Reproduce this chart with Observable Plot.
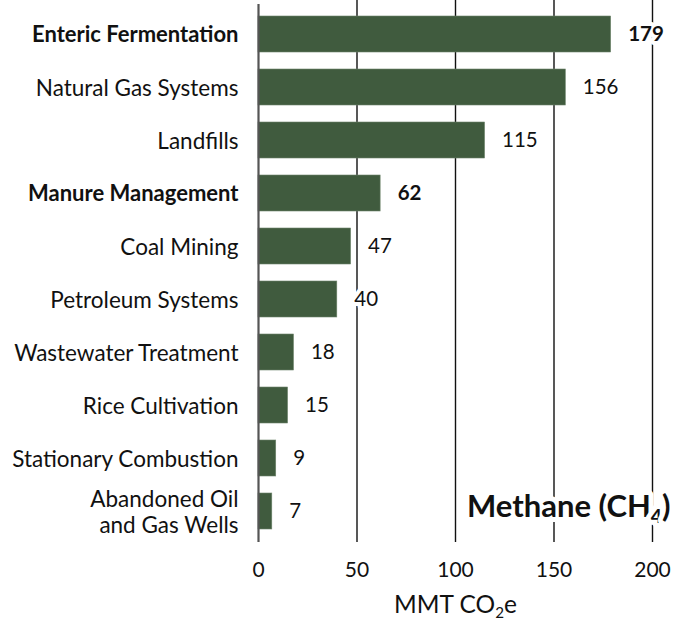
<!DOCTYPE html>
<html>
<head>
<meta charset="utf-8">
<script src="https://cdn.jsdelivr.net/npm/d3@7"></script>
<script src="https://cdn.jsdelivr.net/npm/@observablehq/plot@0.6"></script>
<style>
  html, body { margin: 0; padding: 0; background: #fff; }
  #chart svg { display: block; }
</style>
</head>
<body>
<div id="chart"></div>
<script>
const categories = [
  "Enteric Fermentation",
  "Natural Gas Systems",
  "Landfills",
  "Manure Management",
  "Coal Mining",
  "Petroleum Systems",
  "Wastewater Treatment",
  "Rice Cultivation",
  "Stationary Combustion",
  "Abandoned Oil\nand Gas Wells"
];
const values = [179, 156, 115, 62, 47, 40, 18, 15, 9, 7];
const highlighted = ["Enteric Fermentation", "Manure Management"];
const xTicks = [0, 50, 100, 150, 200];
const gridTicks = [50, 100, 150, 200];
const chartTitle = "Methane (CH4)";
const xLabel = "MMT CO2e";

const data = categories.map((c, i) => ({category: c, value: values[i], bold: highlighted.includes(c)}));
const FONT = "Lato, 'Open Sans', sans-serif";
const GREEN = "#405b3e";

const plot = Plot.plot({
  width: 680,
  height: 630,
  marginLeft: 258,
  marginRight: 28,
  marginTop: 0,
  marginBottom: 85,
  style: {fontFamily: FONT, background: "#fff", color: "#111"},
  x: {domain: [0, 200], ticks: xTicks, label: null},
  y: {domain: categories, paddingInner: 0.33, paddingOuter: 0.22, axis: null},
  marks: [
    Plot.ruleX(gridTicks, {stroke: "#111", strokeWidth: 1.4, insetBottom: 3}),
    Plot.barX(data, {x: "value", y: "category", fill: GREEN, stroke: "#6d846b", strokeWidth: 0.6}),
    Plot.ruleX([0], {stroke: "#555", strokeWidth: 2.2, insetTop: 4, insetBottom: 3}),
    Plot.axisX({ticks: xTicks, tickSize: 0, tickPadding: 17, fontSize: 21, fill: "#111", label: null}),
    // category labels
    Plot.text(data.filter(d => !d.bold), {x: 0, y: "category", text: "category", dx: -20, textAnchor: "end", fontSize: 22.5, fill: "#111", lineHeight: 1.15}),
    Plot.text(data.filter(d => d.bold), {x: 0, y: "category", text: "category", dx: -20, textAnchor: "end", fontSize: 22, fontWeight: "bold", fill: "#111"}),
    // value labels
    Plot.text(data.filter(d => !d.bold), {x: "value", y: "category", text: d => String(d.value), dx: 17, textAnchor: "start", fontSize: 20.5, fill: "#111", stroke: "#fff", strokeWidth: 8, paintOrder: "stroke"}),
    Plot.text(data.filter(d => d.bold), {x: "value", y: "category", text: d => String(d.value), dx: 17, textAnchor: "start", fontSize: 20.5, fontWeight: "bold", fill: "#111", stroke: "#fff", strokeWidth: 8, paintOrder: "stroke"}),
    // chart title
    Plot.text([chartTitle], {frameAnchor: "bottom-right", dx: 18, dy: -29, text: d => d, textAnchor: "end", fontSize: 31, fontWeight: "bold", fill: "#111", stroke: "#fff", strokeWidth: 10, className: "ch-title"}),
    // x label
    Plot.text([xLabel], {frameAnchor: "bottom", dy: 67, text: d => d, fontSize: 24.5, fill: "#111", className: "x-label"})
  ]
});

document.getElementById("chart").appendChild(plot);

// add subscripts
function subscript(cls, before, sub, after) {
  d3.select(plot).selectAll("g." + cls + " text").each(function() {
    const t = d3.select(this);
    t.text(null);
    t.append("tspan").text(before);
    t.append("tspan").attr("baseline-shift", "-30%").attr("font-size", "0.62em").text(sub);
    if (after) t.append("tspan").text(after);
  });
}
subscript("ch-title", "Methane (CH", "4", ")");
subscript("x-label", "MMT CO", "2", "e");
</script>
</body>
</html>
